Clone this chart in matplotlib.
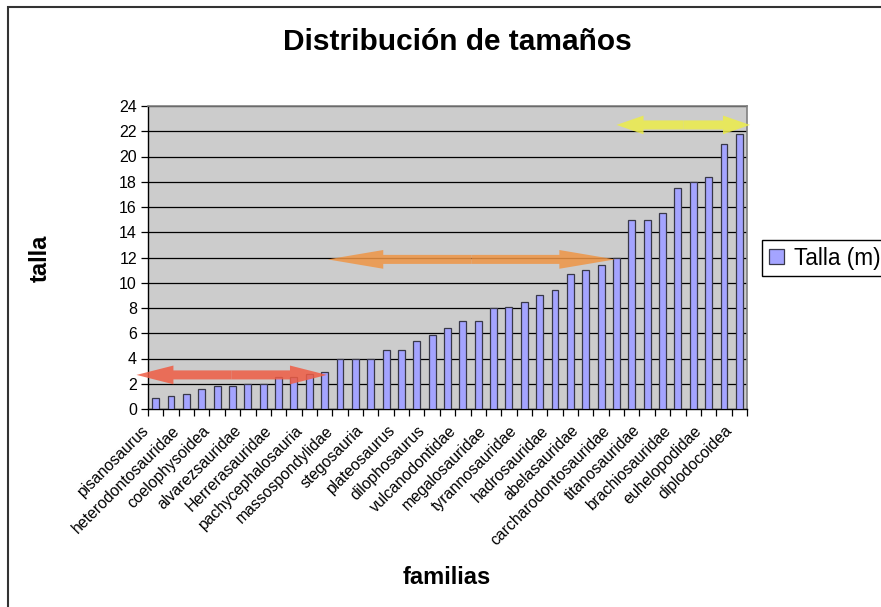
import matplotlib
matplotlib.use("Agg")
import matplotlib.pyplot as plt
from matplotlib.patches import Rectangle
from matplotlib.transforms import ScaledTranslation


# tallas de las 39 familias (m), ordenadas
tallas = [0.9, 1.0, 1.2, 1.6, 1.8, 1.8, 2.0, 2.0, 2.5, 2.5,
          2.75, 2.9, 4.0, 4.0, 4.0, 4.7, 4.7, 5.4, 5.9, 6.4,
          7.0, 7.0, 8.0, 8.1, 8.5, 9.0, 9.4, 10.7, 11.0, 11.4,
          12.0, 15.0, 15.0, 15.5, 17.5, 18.0, 18.4, 21.0, 21.8]

# solo se ven las etiquetas de una de cada dos familias
etiquetas = ["pisanosaurus", "heterodontosauridae", "coelophysoidea",
             "alvarezsauridae", "Herrerasauridae", "pachycephalosauria",
             "massospondylidae", "stegosauria", "plateosaurus",
             "dilophosaurus", "vulcanodontidae", "megalosauridae",
             "tyrannosauridae", "hadrosauridae", "abelasauridae",
             "carcharodontosauridae", "titanosauridae", "brachiosauridae",
             "euhelopodidae", "diplodocoidea"]

# flechas dibujadas encima: (inicio, fin, altura, color, largo de punta)
flechas_x0 = [-1.25, 11.2, 30.0]
flechas_x1 = [11.15, 29.9, 38.7]
flechas_y = [2.7, 11.85, 22.5]
flechas_color = ["#EF5D44", "#EF9545", "#ECEC4A"]
flechas_punta = [2.66, 4.0, 1.95]


plt.rcParams["font.family"] = ["Liberation Sans", "DejaVu Sans"]

fig = plt.figure(figsize=(8.81, 6.07), dpi=100)
ax = fig.add_axes([148 / 881, 1 - 409 / 607, 599 / 881, 303 / 607])

# marco del grafico
fig.patches.append(Rectangle((8 / 881, -0.1), 1.2, 1 - 7 / 607 + 0.1,
                             transform=fig.transFigure, fill=False,
                             edgecolor="#333333", linewidth=1.5))

x = list(range(len(tallas)))

ax.set_facecolor("#CCCCCC")
ax.bar(x, tallas, width=0.45, color="#A4A4FF", edgecolor="#383848",
       linewidth=0.9, label="Talla (m)", zorder=3)

ax.set_xlim(-0.5, len(tallas) - 0.5)
ax.set_ylim(0, 24)
ax.set_yticks(range(0, 25, 2))
ax.yaxis.grid(True, color="black", linewidth=0.9, zorder=1)
ax.set_axisbelow(True)

ax.set_xticks([i - 0.5 for i in range(len(tallas) + 1)])
ax.set_xticklabels([])
ax.set_xticks(x[::2], minor=True)
ax.set_xticklabels(etiquetas, minor=True, rotation=45, ha="right",
                   fontsize=11.3)
ax.tick_params(axis="x", which="minor", length=0, pad=10)
ax.tick_params(axis="x", which="major", length=5, width=0.9)
ax.tick_params(axis="y", length=5, width=0.9, labelsize=11.5, pad=3)

# correr las etiquetas un poco a la izquierda
corrimiento = ScaledTranslation(-4 / 100, 0, fig.dpi_scale_trans)
for lab in ax.get_xticklabels(minor=True):
    lab.set_transform(lab.get_transform() + corrimiento)

for lado in ["top", "right"]:
    ax.spines[lado].set_color("#808080")
    ax.spines[lado].set_linewidth(1.2)
for lado in ["left", "bottom"]:
    ax.spines[lado].set_color("black")
    ax.spines[lado].set_linewidth(1.0)

for x0, x1, y, c, punta in zip(flechas_x0, flechas_x1, flechas_y,
                               flechas_color, flechas_punta):
    medio = (x0 + x1) / 2
    for extremo in (x0, x1):
        ax.annotate("", xy=(extremo, y), xytext=(medio, y),
                    arrowprops=dict(
                        arrowstyle="simple,head_length=%s,head_width=1.35,"
                                   "tail_width=0.65" % punta,
                        color=c, alpha=0.85, lw=0, mutation_scale=10,
                        shrinkA=0, shrinkB=0),
                    annotation_clip=False, zorder=5)

fig.text(457 / 881, 1 - 42 / 607, "Distribución de tamaños",
         fontsize=21.5, fontweight="bold", ha="center", va="center")
fig.text(40 / 881, 1 - 258 / 607, "talla", fontsize=17,
         fontweight="bold", rotation=90, ha="center", va="center")
fig.text(447 / 881, 1 - 577 / 607, "familias", fontsize=17,
         fontweight="bold", ha="center", va="center")

ax.legend(loc="center left", bbox_to_anchor=(762 / 881, 1 - 258 / 607),
          bbox_transform=fig.transFigure, fontsize=16.3, frameon=True,
          fancybox=False, edgecolor="black", framealpha=1,
          handlelength=0.65, handleheight=0.65, handletextpad=0.45,
          borderpad=0.3, borderaxespad=0)

fig.savefig("out.png", dpi=100)
plt.close(fig)
